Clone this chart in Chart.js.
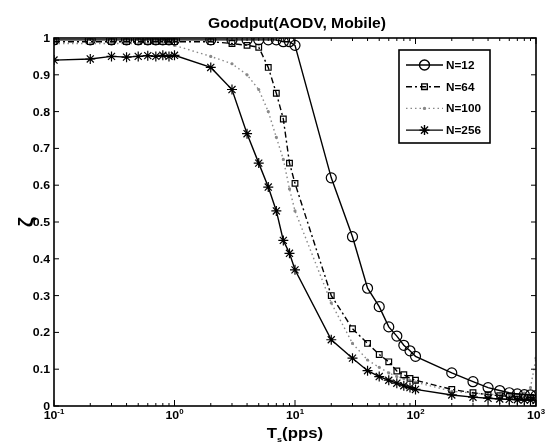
<!DOCTYPE html>
<html>
<head>
<meta charset="utf-8">
<script src="https://cdn.jsdelivr.net/npm/chart.js@4.4.0/dist/chart.umd.min.js"></script>
<style>
  html, body { margin: 0; padding: 0; background: #fff; }
  #wrap { width: 549px; height: 443px; }
</style>
</head>
<body>
<div id="wrap"><canvas id="c"></canvas></div>
<script>
// T (pps), same sampling for every curve
const X_VALUES = [0.1, 0.2, 0.3, 0.4, 0.5, 0.6, 0.7, 0.8, 0.9, 1,
  2, 3, 4, 5, 6, 7, 8, 9, 10,
  20, 30, 40, 50, 60, 70, 80, 90, 100,
  200, 300, 400, 500, 600, 700, 800, 900, 1000];

const N12 = [0.995, 0.995, 0.995, 0.995, 0.995, 0.995, 0.995, 0.995, 0.995, 0.995,
  0.995, 0.995, 0.995, 0.995, 0.995, 0.995, 0.99, 0.99, 0.98,
  0.62, 0.46, 0.32, 0.27, 0.215, 0.19, 0.165, 0.15, 0.135,
  0.09, 0.066, 0.05, 0.042, 0.036, 0.033, 0.031, 0.03, 0.028];

const N64 = [0.99, 0.99, 0.99, 0.99, 0.99, 0.99, 0.99, 0.99, 0.99, 0.99,
  0.99, 0.985, 0.98, 0.975, 0.92, 0.85, 0.78, 0.66, 0.605,
  0.30, 0.21, 0.17, 0.14, 0.12, 0.095, 0.085, 0.075, 0.07,
  0.045, 0.036, 0.031, 0.028, 0.026, 0.025, 0.024, 0.023, 0.022];

const N100 = [0.985, 0.985, 0.985, 0.985, 0.985, 0.985, 0.985, 0.985, 0.985, 0.98,
  0.95, 0.93, 0.90, 0.86, 0.80, 0.73, 0.67, 0.59, 0.53,
  0.28, 0.17, 0.125, 0.105, 0.09, 0.08, 0.075, 0.07, 0.065,
  0.04, 0.035, 0.032, 0.03, 0.03, 0.03, 0.035, 0.05, 0.13];

const N256 = [0.94, 0.943, 0.95, 0.948, 0.95, 0.952, 0.95, 0.953, 0.95, 0.953,
  0.92, 0.86, 0.74, 0.66, 0.595, 0.53, 0.45, 0.415, 0.37,
  0.18, 0.13, 0.096, 0.08, 0.07, 0.062, 0.055, 0.05, 0.045,
  0.03, 0.024, 0.021, 0.019, 0.018, 0.017, 0.016, 0.016, 0.015];

const Y_TICKS = [0, 0.1, 0.2, 0.3, 0.4, 0.5, 0.6, 0.7, 0.8, 0.9, 1];
const Y_LABELS = ['0', '0.1', '0.2', '0.3', '0.4', '0.5', '0.6', '0.7', '0.8', '0.9', '1'];
const X_DECADES = [0.1, 1, 10, 100, 1000];
const X_EXPONENTS = ['-1', '0', '1', '2', '3'];

const FONT = '"Liberation Sans", Arial, Helvetica, sans-serif';
const STRETCH = 1.12; // the scanned text is a bit wide

const SERIES = [
  { label: 'N=12', values: N12, style: 'circle', radius: 5, dash: [], color: '#000' },
  { label: 'N=64', values: N64, style: 'rect', radius: 4, dash: [6, 3, 2, 3], color: '#000' },
  { label: 'N=100', values: N100, style: 'circle', radius: 1, dash: [1.5, 3], color: '#888' },
  { label: 'N=256', values: N256, style: 'star', radius: 5, dash: [], color: '#000' },
];

function texte(ctx, str, x, y, size, align) {
  ctx.font = `bold ${size}px ${FONT}`;
  const w = ctx.measureText(str).width * STRETCH;
  const x0 = align === 'center' ? x - w / 2 : align === 'right' ? x - w : x;
  ctx.save();
  ctx.translate(x0, y);
  ctx.scale(STRETCH, 1);
  ctx.textAlign = 'left';
  ctx.textBaseline = 'alphabetic';
  ctx.fillText(str, 0, 0);
  ctx.restore();
  return w;
}

function trait(ctx, x1, y1, x2, y2) {
  ctx.beginPath();
  ctx.moveTo(x1, y1);
  ctx.lineTo(x2, y2);
  ctx.stroke();
}

const decor = {
  id: 'decor',
  afterDraw(chart) {
    const { ctx, chartArea: a, scales: { x, y } } = chart;
    ctx.save();
    ctx.fillStyle = '#000';
    ctx.strokeStyle = '#000';

    // ticks, pointing inward on all four sides
    ctx.lineWidth = 1;
    Y_TICKS.forEach((v) => {
      const py = y.getPixelForValue(v);
      trait(ctx, a.left, py, a.left + 5, py);
      trait(ctx, a.right - 5, py, a.right, py);
    });
    X_DECADES.forEach((d) => {
      for (let k = 1; k < 10; k++) {
        const v = d * k;
        if (v > 1000) break;
        const px = x.getPixelForValue(v);
        const len = k === 1 ? 6 : 3;
        trait(ctx, px, a.bottom, px, a.bottom - len);
        trait(ctx, px, a.top, px, a.top + len);
      }
    });

    ctx.lineWidth = 1.6;
    ctx.strokeRect(a.left, a.top, a.right - a.left, a.bottom - a.top);

    // tick labels
    Y_TICKS.forEach((v, i) => {
      texte(ctx, Y_LABELS[i], a.left - 4, y.getPixelForValue(v) + 4, 11, 'right');
    });
    X_DECADES.forEach((d, i) => {
      const px = x.getPixelForValue(d);
      ctx.font = `bold 11px ${FONT}`;
      const w1 = ctx.measureText('10').width * STRETCH;
      ctx.font = `bold 7px ${FONT}`;
      const w2 = ctx.measureText(X_EXPONENTS[i]).width * STRETCH;
      const x0 = px - (w1 + w2) / 2;
      texte(ctx, '10', x0, a.bottom + 13, 11, 'left');
      texte(ctx, X_EXPONENTS[i], x0 + w1, a.bottom + 8, 7, 'left');
    });

    // titles
    const cx = (a.left + a.right) / 2;
    texte(ctx, 'Goodput(AODV, Mobile)', cx + 2, 28, 14, 'center');

    ctx.font = `bold 15px ${FONT}`;
    const wT = ctx.measureText('T').width * STRETCH;
    const wP = ctx.measureText('(pps)').width * STRETCH;
    ctx.font = `bold 8px ${FONT}`;
    const wS = ctx.measureText('s').width * STRETCH;
    let tx = cx - (wT + wS + wP) / 2;
    texte(ctx, 'T', tx, 438, 15, 'left');
    texte(ctx, 's', tx + wT, 442, 8, 'left');
    texte(ctx, '(pps)', tx + wT + wS, 438, 15, 'left');

    ctx.save();
    ctx.translate(33, (a.top + a.bottom) / 2);
    ctx.rotate(-Math.PI / 2);
    texte(ctx, 'ζ', 0, 0, 20, 'center');
    ctx.restore();

    // legend box
    const lx = 399, ly = 50, lw = 91, lh = 93;
    ctx.fillStyle = '#fff';
    ctx.fillRect(lx, ly, lw, lh);
    ctx.lineWidth = 1.6;
    ctx.strokeStyle = '#000';
    ctx.strokeRect(lx, ly, lw, lh);
    SERIES.forEach((s, i) => {
      const ry = 65 + i * 21.7;
      ctx.strokeStyle = s.color;
      ctx.lineWidth = 1.4;
      ctx.setLineDash(s.dash);
      trait(ctx, 406, ry, 443, ry);
      ctx.setLineDash([]);
      ctx.fillStyle = s.style === 'circle' && s.radius < 2 ? s.color : 'rgba(0,0,0,0)';
      if (Chart.helpers && Chart.helpers.drawPoint) {
        Chart.helpers.drawPoint(ctx, { pointStyle: s.style, radius: s.radius, borderWidth: 1.2, rotation: 0 }, 424.5, ry);
      }
      ctx.fillStyle = '#000';
      texte(ctx, s.label, 446, ry + 4, 10.5, 'left');
    });

    ctx.restore();
  },
};

const datasets = SERIES.map((s) => ({
  label: s.label,
  data: X_VALUES.map((xv, i) => ({ x: xv, y: s.values[i] })),
  borderColor: s.color,
  borderWidth: 1.4,
  borderDash: s.dash,
  pointStyle: s.style,
  pointRadius: s.radius,
  pointBorderWidth: 1.2,
  pointBorderColor: s.color,
  pointBackgroundColor: s.radius < 2 ? s.color : 'rgba(0,0,0,0)',
  tension: 0,
  fill: false,
}));

new Chart(document.getElementById('c'), {
  type: 'line',
  data: { datasets },
  options: {
    responsive: true,
    maintainAspectRatio: false,
    animation: false,
    layout: { padding: { top: 38, right: 13, left: 0, bottom: 0 } },
    plugins: {
      legend: { display: false },
      title: { display: false },
      tooltip: { enabled: false },
    },
    scales: {
      x: {
        type: 'logarithmic',
        min: 0.1,
        max: 1000,
        grid: { display: false },
        border: { display: false },
        ticks: { display: false },
        afterFit(scale) { scale.height = 37; },
      },
      y: {
        min: 0,
        max: 1,
        grid: { display: false },
        border: { display: false },
        ticks: { display: false },
        afterFit(scale) { scale.width = 54; },
      },
    },
  },
  plugins: [decor],
});
</script>
</body>
</html>
